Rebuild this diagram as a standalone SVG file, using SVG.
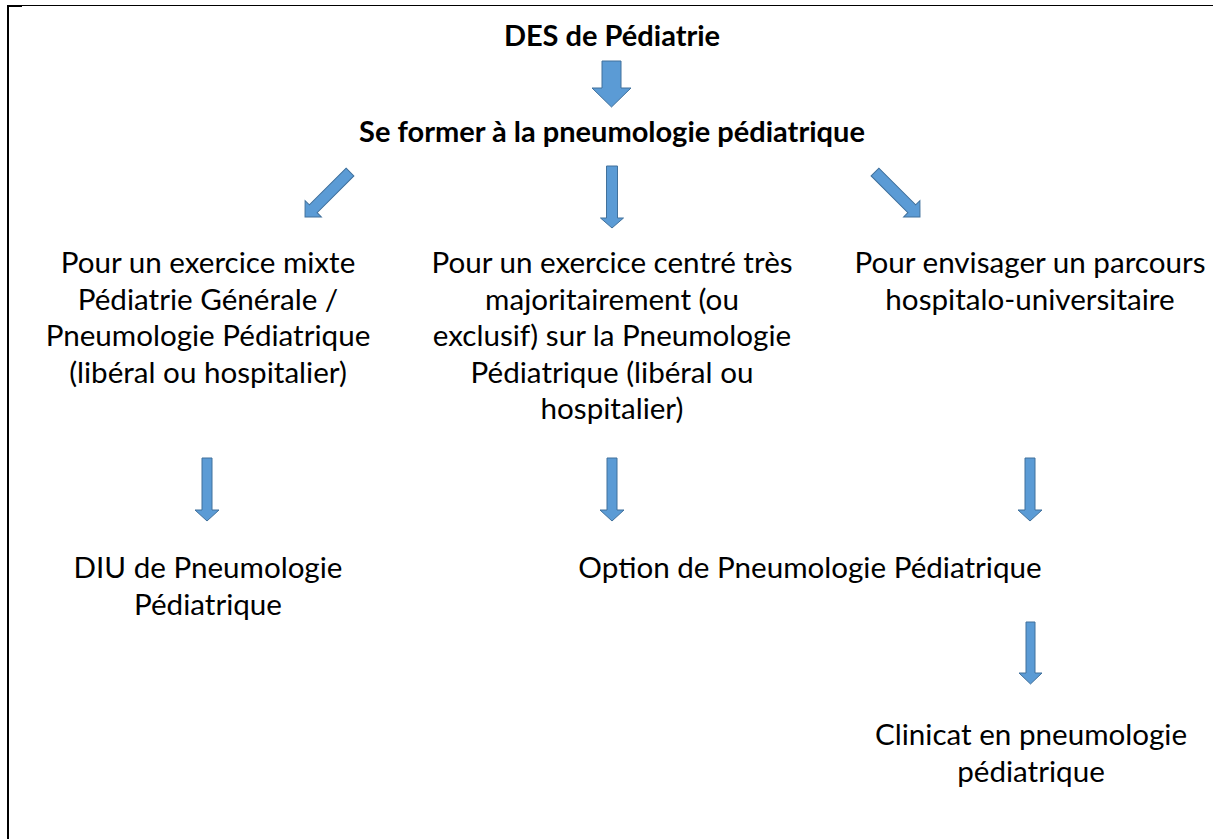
<svg xmlns="http://www.w3.org/2000/svg" width="1213" height="839" viewBox="0 0 1213 839">
<style>
.t{font-family:Lato,"Open Sans","Liberation Sans",sans-serif;font-size:29.6px;fill:#000;text-anchor:middle}
.b{font-weight:bold;font-size:29px}
.a{fill:#5B9BD5;stroke:#41719C;stroke-width:1}
</style>
<rect width="1213" height="839" fill="#fff"/>
<g id="border">
<rect x="7" y="5" width="1206" height="1" fill="#000"/>
<rect x="7" y="5" width="15" height="2" fill="#000"/>
<rect x="7" y="5" width="2" height="834" fill="#000"/>
</g>
<g id="n-des"><text class="t b" x="612" y="46">DES de Pédiatrie</text></g>
<g id="n-former"><text class="t b" x="612" y="142">Se former à la pneumologie pédiatrique</text></g>
<g id="n-mixte">
<text class="t" x="208" y="273">Pour un exercice mixte</text>
<text class="t" x="208" y="309.5">Pédiatrie Générale /</text>
<text class="t" x="208" y="346">Pneumologie Pédiatrique</text>
<text class="t" x="208" y="382.5">(libéral ou hospitalier)</text>
</g>
<g id="n-centre">
<text class="t" x="612" y="273">Pour un exercice centré très</text>
<text class="t" x="612" y="309.5">majoritairement (ou</text>
<text class="t" x="612" y="346">exclusif) sur la Pneumologie</text>
<text class="t" x="612" y="382.5">Pédiatrique (libéral ou</text>
<text class="t" x="612" y="419">hospitalier)</text>
</g>
<g id="n-hu">
<text class="t" x="1030" y="273">Pour envisager un parcours</text>
<text class="t" x="1030" y="309.5">hospitalo-universitaire</text>
</g>
<g id="n-diu">
<text class="t" x="208" y="578">DIU de Pneumologie</text>
<text class="t" x="208" y="614.5">Pédiatrique</text>
</g>
<g id="n-option"><text class="t" x="810" y="578">Option de Pneumologie Pédiatrique</text></g>
<g id="n-clinicat">
<text class="t" x="1031" y="745">Clinicat en pneumologie</text>
<text class="t" x="1031" y="781.5">pédiatrique</text>
</g>
<g id="connectors">
<polygon class="a" points="602,61 621,61 621,88 631,88 611.5,107 592,88 602,88"/>
<polygon class="a" transform="translate(350,172) rotate(45)" points="-5.5,0 5.5,0 5.5,52 11.5,52 0,63.6 -11.5,52 -5.5,52"/>
<polygon class="a" transform="translate(875,172) rotate(-45)" points="-5.5,0 5.5,0 5.5,52 11.5,52 0,63.6 -11.5,52 -5.5,52"/>
<polygon class="a" points="606.5,166 617.5,166 617.5,218 623.5,218 612,228 600.5,218 606.5,218"/>
<polygon class="a" points="202,458 212,458 212,510 219,510 207,521 195,510 202,510"/>
<polygon class="a" points="607,458 617,458 617,510 624,510 612,521 600,510 607,510"/>
<polygon class="a" points="1025,458 1035,458 1035,510 1042,510 1030,521 1018,510 1025,510"/>
<polygon class="a" points="1026,622 1035,622 1035,673 1042,673 1030.5,684 1019,673 1026,673"/>
</g>
</svg>
